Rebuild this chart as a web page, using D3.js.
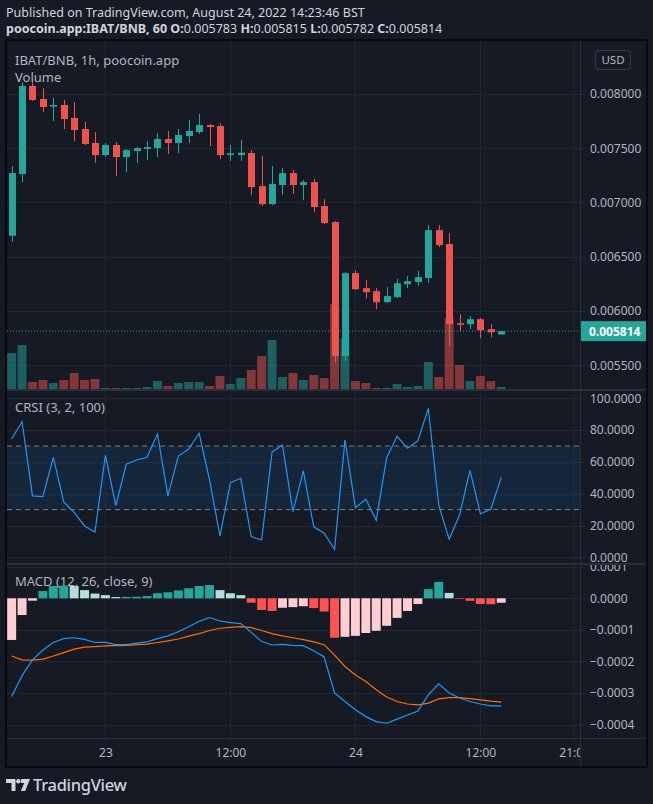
<!DOCTYPE html>
<html>
<head>
<meta charset="utf-8">
<script src="https://cdn.jsdelivr.net/npm/d3@7"></script>
<style>
  html, body { margin: 0; padding: 0; background: #161a25; }
  svg { display: block; font-family: "Noto Sans", sans-serif; }
</style>
</head>
<body>
<div id="chart"></div>
<script>
// IBAT/BNB 1h candles, 22 Aug 15:00 -> 24 Aug 14:00
const opens = [0.006693, 0.007262, 0.008074, 0.007954, 0.007883, 0.007899, 0.007779, 0.007677, 0.007548, 0.007437,
  0.007530, 0.007419, 0.007474, 0.007493, 0.007502, 0.007585, 0.007548, 0.007613, 0.007649, 0.007714,
  0.007705, 0.007437, 0.007437, 0.007456, 0.007151, 0.006985, 0.007161, 0.007271, 0.007161, 0.007188,
  0.006967, 0.006819, 0.005583, 0.006349, 0.006210, 0.006183, 0.006081, 0.006127, 0.006247, 0.006266,
  0.006303, 0.006745, 0.006616, 0.005887, 0.005878, 0.005924, 0.005832, 0.005783];
const highs = [0.007336, 0.008108, 0.008138, 0.008055, 0.007963, 0.007945, 0.007926, 0.007742, 0.007649, 0.007548,
  0.007557, 0.007493, 0.007511, 0.007566, 0.007640, 0.007659, 0.007677, 0.007760, 0.007816, 0.007723,
  0.007732, 0.007530, 0.007576, 0.007483, 0.007428, 0.007336, 0.007317, 0.007299, 0.007207, 0.007216,
  0.007031, 0.006830, 0.006358, 0.006376, 0.006284, 0.006210, 0.006220, 0.006293, 0.006321, 0.006367,
  0.006792, 0.006792, 0.006718, 0.005970, 0.005952, 0.005934, 0.005878, 0.005815];
const lows = [0.006637, 0.007188, 0.007935, 0.007834, 0.007751, 0.007677, 0.007566, 0.007530, 0.007363, 0.007419,
  0.007244, 0.007280, 0.007363, 0.007391, 0.007419, 0.007446, 0.007456, 0.007548, 0.007631, 0.007520,
  0.007400, 0.007382, 0.007382, 0.007068, 0.006967, 0.006976, 0.007068, 0.007078, 0.007022, 0.006911,
  0.006801, 0.005528, 0.005537, 0.006192, 0.006118, 0.006017, 0.006075, 0.006118, 0.006210, 0.006229,
  0.006256, 0.006589, 0.005675, 0.005814, 0.005832, 0.005749, 0.005758, 0.005782];
const closes = [0.007271, 0.008074, 0.007945, 0.007880, 0.007899, 0.007769, 0.007668, 0.007539, 0.007437, 0.007530,
  0.007419, 0.007483, 0.007502, 0.007511, 0.007585, 0.007548, 0.007622, 0.007659, 0.007714, 0.007696,
  0.007437, 0.007453, 0.007459, 0.007142, 0.006985, 0.007170, 0.007271, 0.007161, 0.007188, 0.006958,
  0.006810, 0.005583, 0.006349, 0.006201, 0.006173, 0.006081, 0.006137, 0.006256, 0.006275, 0.006312,
  0.006745, 0.006607, 0.005878, 0.005878, 0.005924, 0.005823, 0.005804, 0.005814];
// volume, thousands
const volumes = [37, 45, 8, 10, 7, 10, 17, 10, 11, 2, 2, 2, 2, 3, 9, 4, 7, 8, 8, 4,
  14, 6, 12, 20, 34, 50, 13, 17, 10, 15, 12, 86, 51, 9, 7, 2, 2, 6, 3, 4,
  28, 13, 72, 25, 9, 14, 9, 3];

const crsi = [74.4, 85.3, 38.6, 38.1, 62.9, 34.8, 28.3, 19.7, 15.9, 64.2,
  32.5, 58.5, 61.2, 62.9, 77.5, 38.6, 63.7, 68.1, 78.0, 48.6,
  13.4, 46.9, 49.7, 13.0, 10.9, 66.2, 70.6, 28.7, 54.3, 19.2,
  15.1, 5.0, 73.8, 31.2, 36.5, 23.3, 62.6, 76.1, 68.6, 73.3,
  93.7, 32.9, 11.3, 26.6, 54.7, 27.4, 30.2, 50.3];

const macdLine = [-0.000311, -0.000245, -0.000195, -0.000164, -0.000140, -0.000128, -0.000125, -0.000130, -0.000140, -0.000140,
  -0.000147, -0.000147, -0.000142, -0.000138, -0.000128, -0.000119, -0.000106, -0.000090, -0.000073, -0.000061,
  -0.000072, -0.000077, -0.000080, -0.000108, -0.000137, -0.000148, -0.000146, -0.000149, -0.000150, -0.000166,
  -0.000186, -0.000300, -0.000327, -0.000353, -0.000375, -0.000391, -0.000396, -0.000383, -0.000370, -0.000357,
  -0.000306, -0.000271, -0.000300, -0.000316, -0.000327, -0.000335, -0.000341, -0.000341];
const signalLine = [-0.000183, -0.000195, -0.000196, -0.000193, -0.000183, -0.000172, -0.000161, -0.000155, -0.000153, -0.000151,
  -0.000150, -0.000149, -0.000147, -0.000145, -0.000140, -0.000135, -0.000129, -0.000120, -0.000112, -0.000102,
  -0.000095, -0.000092, -0.000090, -0.000093, -0.000102, -0.000112, -0.000119, -0.000125, -0.000131, -0.000138,
  -0.000147, -0.000180, -0.000216, -0.000243, -0.000264, -0.000290, -0.000313, -0.000327, -0.000335, -0.000338,
  -0.000332, -0.000319, -0.000315, -0.000315, -0.000318, -0.000322, -0.000326, -0.000329];
const histogram = [-0.000132, -0.000053, -0.0000075, 0.000023, 0.000039, 0.000040, 0.000039, 0.000026, 0.000015, 0.000010,
  0.000004, 0.0000045, 0.000005, 0.000007, 0.000016, 0.000019, 0.000025, 0.000032, 0.000039, 0.000042,
  0.000026, 0.000016, 0.000010, -0.000014, -0.000037, -0.000040, -0.000030, -0.000028, -0.000025, -0.000031,
  -0.000042, -0.000125, -0.000122, -0.000119, -0.000110, -0.000103, -0.000087, -0.000062, -0.000040, -0.000018,
  0.000029, 0.000052, 0.000017, -0.000002, -0.000008, -0.000018, -0.000019, -0.000014];

const priceTicks = [0.0055, 0.006, 0.0065, 0.007, 0.0075, 0.008];
const crsiTicks = [0, 20, 40, 60, 80, 100];
const macdTicks = [-0.0004, -0.0003, -0.0002, -0.0001, 0, 0.0001];
const timeTicks = [new Date(2022, 7, 23, 0), new Date(2022, 7, 23, 12), new Date(2022, 7, 24, 0),
  new Date(2022, 7, 24, 12), new Date(2022, 7, 24, 21)];
const timeLabels = ["23", "12:00", "24", "12:00", "21:00"];
const lastPrice = 0.005814;

const W = 653, H = 804;
const plotLeft = 7, plotRight = 580, axisRight = 647;
const paneTop = 40, mainBottom = 390, crsiBottom = 564, macdBottom = 738, frameBottom = 767;

const bg = "#161a25", grid = "#232733", sep = "#2a2e39", txt = "#b2b5be";
const up = "#26a69a", down = "#ef5350";

const start = new Date(2022, 7, 22, 15);
const times = closes.map((d, i) => d3.timeHour.offset(start, i));

const x = d3.scaleTime()
  .domain([new Date(2022, 7, 23, 0), new Date(2022, 7, 24, 0)])
  .range([105.4, 355.4]);
const step = x(times[1]) - x(times[0]);

const y = d3.scaleLinear().domain([0.0055, 0.008]).range([365.2, 94]);
const yVol = d3.scaleLinear().domain([0, 100]).range([mainBottom, mainBottom - 100]);
const yC = d3.scaleLinear().domain([0, 100]).range([557.3, 398.3]);
const yM = d3.scaleLinear().domain([-0.0004, 0]).range([724.5, 598.3]);

const svg = d3.select("#chart").append("svg")
  .attr("width", W).attr("height", H)
  .style("background", bg);

const defs = svg.append("defs");
function clip(id, y0, y1, x1) {
  defs.append("clipPath").attr("id", id).append("rect")
    .attr("x", plotLeft).attr("y", y0).attr("width", (x1 || plotRight) - plotLeft).attr("height", y1 - y0);
}
clip("cMain", paneTop, mainBottom);
clip("cCrsi", mainBottom, crsiBottom);
clip("cMacd", crsiBottom, macdBottom);
clip("cTime", macdBottom, frameBottom);
clip("axMain", paneTop, mainBottom, axisRight);
clip("axCrsi", mainBottom, crsiBottom, axisRight);
clip("axMacd", crsiBottom, macdBottom, axisRight);

// header
const head = svg.append("g").attr("fill", "#d1d4dc").attr("font-size", 12.5);
head.append("text").attr("x", 6).attr("y", 17)
  .text("Published on TradingView.com, August 24, 2022 14:23:46 BST");
const h2 = head.append("text").attr("x", 6).attr("y", 33);
h2.append("tspan").attr("font-weight", 700).text("poocoin.app:IBAT/BNB, 60 ");
[["O:", "0.005783"], ["H:", "0.005815"], ["L:", "0.005782"], ["C:", "0.005814"]].forEach(p => {
  h2.append("tspan").attr("font-weight", 700).text(" " + p[0]);
  h2.append("tspan").text(p[1]);
});

// grids
const gGrid = svg.append("g").attr("stroke", grid).attr("stroke-width", 1);
timeTicks.forEach(t => {
  gGrid.append("line").attr("x1", x(t)).attr("x2", x(t)).attr("y1", paneTop).attr("y2", macdBottom);
});
function hgrid(ticks, scale, clipId) {
  gGrid.append("g").attr("clip-path", `url(#${clipId})`).selectAll("line").data(ticks).join("line")
    .attr("x1", plotLeft).attr("x2", plotRight)
    .attr("y1", d => Math.round(scale(d)) + 0.5).attr("y2", d => Math.round(scale(d)) + 0.5);
}
hgrid(priceTicks, y, "cMain");
hgrid(crsiTicks, yC, "cCrsi");
hgrid(macdTicks, yM, "cMacd");

// ---- main pane ----
const main = svg.append("g").attr("clip-path", "url(#cMain)");
const bars = closes.map((c, i) => ({ t: times[i], o: opens[i], h: highs[i], l: lows[i], c: c, v: volumes[i] }));

main.selectAll("rect.vol").data(bars).join("rect")
  .attr("class", "vol")
  .attr("x", d => x(d.t) - step * 0.43)
  .attr("width", step * 0.86)
  .attr("y", d => yVol(d.v))
  .attr("height", d => mainBottom - yVol(d.v))
  .attr("fill", d => d.c >= d.o ? up : down)
  .attr("fill-opacity", 0.5);

main.append("line")
  .attr("x1", plotLeft).attr("x2", plotRight)
  .attr("y1", y(lastPrice)).attr("y2", y(lastPrice))
  .attr("stroke", up).attr("stroke-dasharray", "1,2");

const candle = main.selectAll("g.candle").data(bars).join("g").attr("class", "candle")
  .attr("fill", d => d.c >= d.o ? up : down)
  .attr("stroke", d => d.c >= d.o ? up : down);
candle.append("line")
  .attr("x1", d => Math.round(x(d.t)) + 0.5).attr("x2", d => Math.round(x(d.t)) + 0.5)
  .attr("y1", d => y(d.h)).attr("y2", d => y(d.l));
candle.append("rect")
  .attr("stroke", "none")
  .attr("x", d => Math.round(x(d.t)) - 3)
  .attr("width", 7)
  .attr("y", d => y(Math.max(d.o, d.c)))
  .attr("height", d => Math.max(1.5, Math.abs(y(d.o) - y(d.c))));

main.append("text").attr("x", 15).attr("y", 65).attr("fill", txt).attr("font-size", 13)
  .text("IBAT/BNB, 1h, poocoin.app");
main.append("text").attr("x", 15).attr("y", 82).attr("fill", txt).attr("font-size", 13)
  .text("Volume");

// ---- CRSI pane ----
const cr = svg.append("g").attr("clip-path", "url(#cCrsi)");
cr.append("rect")
  .attr("x", plotLeft).attr("width", plotRight - plotLeft)
  .attr("y", yC(70)).attr("height", yC(30) - yC(70))
  .attr("fill", "#2196f3").attr("fill-opacity", 0.1);
[70, 30].forEach(v => {
  cr.append("line").attr("x1", plotLeft).attr("x2", plotRight)
    .attr("y1", yC(v)).attr("y2", yC(v))
    .attr("stroke", "#787b86").attr("stroke-dasharray", "5,4");
});
cr.append("path").datum(crsi)
  .attr("fill", "none").attr("stroke", "#2196f3").attr("stroke-width", 1.2)
  .attr("d", d3.line().x((d, i) => x(times[i])).y(d => yC(d)));
cr.append("text").attr("x", 15).attr("y", 412).attr("fill", txt).attr("font-size", 13)
  .text("CRSI (3, 2, 100)");

// ---- MACD pane ----
const mc = svg.append("g").attr("clip-path", "url(#cMacd)");
function histColor(d, i) {
  const prev = i > 0 ? histogram[i - 1] : -Infinity;
  if (d >= 0) return d > prev ? "#26a69a" : "#b2dfdb";
  return d > prev ? "#ffcdd2" : "#ff5252";
}
mc.selectAll("rect").data(histogram).join("rect")
  .attr("x", (d, i) => x(times[i]) - step * 0.43)
  .attr("width", step * 0.86)
  .attr("y", d => yM(Math.max(0, d)))
  .attr("height", d => Math.abs(yM(d) - yM(0)))
  .attr("fill", histColor);
mc.append("path").datum(signalLine)
  .attr("fill", "none").attr("stroke", "#ff6d00").attr("stroke-width", 1.2)
  .attr("d", d3.line().x((d, i) => x(times[i])).y(d => yM(d)));
mc.append("path").datum(macdLine)
  .attr("fill", "none").attr("stroke", "#2196f3").attr("stroke-width", 1.2)
  .attr("d", d3.line().x((d, i) => x(times[i])).y(d => yM(d)));
mc.append("text").attr("x", 15).attr("y", 586).attr("fill", txt).attr("font-size", 13)
  .text("MACD (12, 26, close, 9)");

// ---- axes ----
function styleAxis(g) {
  g.select(".domain").remove();
  g.selectAll(".tick line").attr("stroke", sep);
  g.selectAll(".tick text").attr("fill", txt).attr("font-size", 12)
    .attr("font-family", "'Noto Sans', sans-serif");
}
svg.append("g").attr("clip-path", "url(#axMain)").append("g")
  .attr("transform", `translate(${plotRight},0)`)
  .call(d3.axisRight(y).tickValues(priceTicks).tickFormat(d3.format(".6f")).tickSize(5).tickPadding(5))
  .call(styleAxis);
svg.append("g").attr("clip-path", "url(#axCrsi)").append("g")
  .attr("transform", `translate(${plotRight},0)`)
  .call(d3.axisRight(yC).tickValues(crsiTicks).tickFormat(d3.format(".4f")).tickSize(5).tickPadding(5))
  .call(styleAxis);
svg.append("g").attr("clip-path", "url(#axMacd)").append("g")
  .attr("transform", `translate(${plotRight},0)`)
  .call(d3.axisRight(yM).tickValues(macdTicks).tickFormat(d3.format(".4f")).tickSize(5).tickPadding(5))
  .call(styleAxis);
svg.append("g").attr("clip-path", "url(#cTime)").append("g")
  .attr("transform", `translate(0,${macdBottom})`)
  .call(d3.axisBottom(x).tickValues(timeTicks).tickFormat((d, i) => timeLabels[i]).tickSize(3).tickPadding(7))
  .call(styleAxis);

// last price marker
svg.append("rect").attr("x", plotRight).attr("y", y(lastPrice) - 10)
  .attr("width", axisRight - plotRight - 1).attr("height", 20).attr("fill", up);
svg.append("text").attr("x", plotRight + 9).attr("y", y(lastPrice) + 4.5)
  .attr("fill", "#ffffff").attr("font-size", 12).attr("font-weight", 700)
  .text(d3.format(".6f")(lastPrice));

// USD button
svg.append("rect").attr("x", 595.5).attr("y", 50.5).attr("width", 35).attr("height", 19).attr("rx", 3)
  .attr("fill", "none").attr("stroke", "#363a45");
svg.append("text").attr("x", 613).attr("y", 64).attr("text-anchor", "middle")
  .attr("fill", txt).attr("font-size", 11.5).text("USD");

// separators and frame
const sepG = svg.append("g").attr("stroke", sep);
[mainBottom, crsiBottom].forEach(v => {
  sepG.append("line").attr("x1", plotLeft).attr("x2", axisRight).attr("y1", v).attr("y2", v).attr("stroke-width", 2);
});
sepG.append("line").attr("x1", plotLeft).attr("x2", axisRight).attr("y1", macdBottom + 0.5).attr("y2", macdBottom + 0.5);
sepG.append("line").attr("x1", plotRight + 0.5).attr("x2", plotRight + 0.5).attr("y1", paneTop).attr("y2", frameBottom);
svg.append("rect").attr("x", 6).attr("y", 40).attr("width", axisRight - 6).attr("height", frameBottom - 40)
  .attr("fill", "none").attr("stroke", "#05060a").attr("stroke-width", 1.5);

// footer logo
const logo = svg.append("g").attr("fill", "#d1d4dc");
logo.append("path").attr("d", "M6,779 H15.5 V791 H11.5 V783 H6 Z");
logo.append("circle").attr("cx", 18.3).attr("cy", 781.3).attr("r", 2.2);
logo.append("path").attr("d", "M21,779 H30 L25.2,791 H20.8 L24.2,783 H21 Z");
logo.append("text").attr("x", 33).attr("y", 791).attr("font-size", 16.5).attr("font-weight", 500)
  .attr("letter-spacing", -0.3).text("TradingView");
</script>
</body>
</html>
